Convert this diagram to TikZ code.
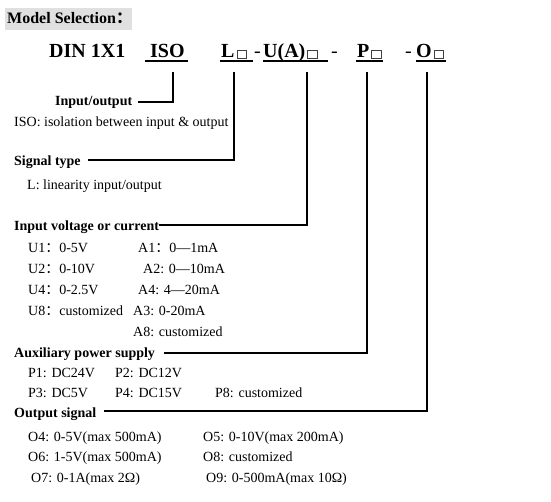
\documentclass[tikz,border=0pt]{standalone}
\usepackage{fontspec}
\setmainfont{Liberation Serif}
\newfontfamily\cjk{Noto Sans CJK SC}
\newcommand{\sqb}{\hspace{2pt}{\mdseries\setlength{\fboxsep}{0pt}\setlength{\fboxrule}{0.6pt}\textcolor{black!75}{\fbox{\rule{0pt}{7.5pt}\hspace{9pt}}}}}
\newcommand{\fc}{{\cjk ：}}
\begin{document}
\begin{tikzpicture}[x=1pt,y=-1pt,
  txt/.style={anchor=base west,inner sep=0pt,font=\fontsize{14}{16}\selectfont},
  lbl/.style={anchor=base west,inner sep=0pt,font=\fontsize{14}{16}\selectfont\bfseries},
  ttl/.style={anchor=base west,inner sep=0pt,font=\fontsize{20}{24}\selectfont\bfseries},
  dsh/.style={anchor=base west,inner sep=0pt,font=\fontsize{20}{24}\selectfont},
  conn/.style={line width=1.2pt},
  uline/.style={line width=1.6pt}]
\useasboundingbox (0,0) rectangle (551,502);
% heading
\fill[black!12] (5,8) rectangle (132,30);
\node[anchor=base west,inner sep=0pt,font=\fontsize{16}{18}\selectfont\bfseries] (ms) at (7,24) {Model Selection\fc};
% model code
\node[ttl] (din) at (49,58) {DIN 1X1};
\node[ttl] (iso) at (150,58) {ISO};
\node[ttl] (lsig) at (221,58) {L\sqb};
\node[dsh] (d1) at (254,58) {-};
\node[ttl] (ua) at (263,58) {U(A)\sqb};
\node[dsh] (d2) at (331,58) {-};
\node[ttl] (pw) at (357,58) {P\sqb};
\node[dsh] (d3) at (405,58) {-};
\node[ttl] (ou) at (416,58) {O\sqb};
\draw[uline] (145,61) -- (188,61);
\draw[uline] (220,61) -- (253,61);
\draw[uline] (263,61) -- (328,61);
\draw[uline] (356,61) -- (383,61);
\draw[uline] (416,61) -- (446,61);
% labels
\node[lbl] (io) at (55,106) {Input/output};
\node[txt] (iot) at (14,127) {ISO: isolation between input \& output};
\node[lbl] (st) at (14,166) {Signal type};
\node[txt] (stt) at (27,190) {L: linearity input/output};
\node[lbl] (ivc) at (14,231) {Input voltage or current};
\node[txt] (u1) at (28,253) {U1\fc0-5V};
\node[txt] (a1) at (138,253) {A1\fc0—1mA};
\node[txt] (u2) at (28,274) {U2\fc0-10V};
\node[txt] (a2) at (143,274) {A2: 0—10mA};
\node[txt] (u4) at (28,295) {U4\fc0-2.5V};
\node[txt] (a4) at (138,295) {A4: 4—20mA};
\node[txt] (u8) at (28,316) {U8\fc customized};
\node[txt] (a3) at (133,316) {A3: 0-20mA};
\node[txt] (a8) at (133,337) {A8: customized};
\node[lbl] (aps) at (14,357) {Auxiliary power supply};
\node[txt] (p1) at (28,377) {P1: DC24V};
\node[txt] (p2) at (115,377) {P2: DC12V};
\node[txt] (p3) at (28,397) {P3: DC5V};
\node[txt] (p4) at (115,397) {P4: DC15V};
\node[txt] (p8) at (215,397) {P8: customized};
\node[lbl] (os) at (14,417) {Output signal};
\node[txt] (o4) at (28,441) {O4: 0-5V(max 500mA)};
\node[txt] (o5) at (203,441) {O5: 0-10V(max 200mA)};
\node[txt] (o6) at (28,461) {O6: 1-5V(max 500mA)};
\node[txt] (o8) at (203,461) {O8: customized};
\node[txt] (o7) at (31,482) {O7: 0-1A(max 2Ω)};
\node[txt] (o9) at (206,482) {O9: 0-500mA(max 10Ω)};
% connectors
\coordinate (isoT) at (173,72);  \coordinate (ioE) at (138,102);
\coordinate (lT) at (234,72);    \coordinate (stE) at (88,160);
\coordinate (uT) at (307,72);    \coordinate (ivcE) at (159,225);
\coordinate (pT) at (367,72);    \coordinate (apsE) at (164,353);
\coordinate (oT) at (427,72);    \coordinate (osE) at (104,411);
\draw[conn] (isoT) |- (ioE);
\draw[conn] (lT) |- (stE);
\draw[conn] (uT) |- (ivcE);
\draw[conn] (pT) |- (apsE);
\draw[conn] (oT) |- (osE);
\end{tikzpicture}
\end{document}
